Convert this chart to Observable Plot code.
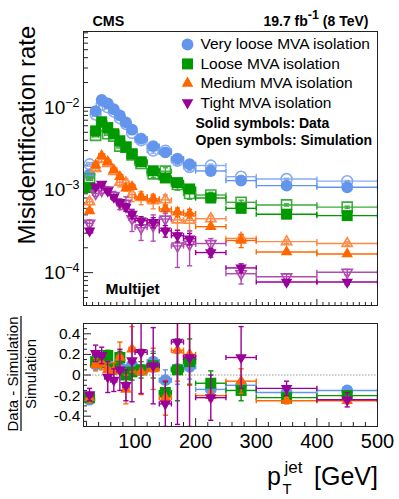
<!DOCTYPE html>
<html><head><meta charset="utf-8">
<script src="https://cdn.jsdelivr.net/npm/d3@7"></script>
<script src="https://cdn.jsdelivr.net/npm/@observablehq/plot@0.6"></script>
<style>
html,body{margin:0;padding:0;background:#fff;}
#wrap{position:relative;width:399px;height:499px;overflow:hidden;font-family:"Liberation Sans",Arial,sans-serif;}
#wrap svg{position:absolute;left:0;}
</style></head><body><div id="wrap"></div>
<script>
// ---- data ----
const binLo = [20,30,40,50,60,70,80,90,100,120,140,160,180,200,250,300,400];
const binHi = [30,40,50,60,70,80,90,100,120,140,160,180,200,250,300,400,500];
const ptX   = [25,35,45,55,65,75,85,95,110,130,150,170,190,225,275,350,450];

const vlData = [1.55e-3,9.0e-3,1.23e-2,1.12e-2,9.5e-3,8.0e-3,6.6e-3,5.4e-3,4.2e-3,3.4e-3,2.85e-3,2.4e-3,2.05e-3,1.7e-3,1.3e-3,1.13e-3,1.08e-3];
const vlSim  = [2.05e-3,8.2e-3,1.07e-2,1.0e-2,8.9e-3,7.4e-3,6.3e-3,4.9e-3,4.0e-3,3.0e-3,3.0e-3,2.26e-3,1.9e-3,1.98e-3,1.45e-3,1.36e-3,1.28e-3];
const lData  = [1.07e-3,5.2e-3,6.7e-3,5.7e-3,4.8e-3,3.95e-3,3.3e-3,2.75e-3,2.2e-3,1.71e-3,1.4e-3,1.23e-3,1.03e-3,8.0e-4,6.0e-4,5.1e-4,4.9e-4];
const lSim   = [1.37e-3,4.6e-3,6.0e-3,4.8e-3,4.5e-3,3.4e-3,3.3e-3,2.67e-3,2.1e-3,1.57e-3,1.69e-3,1.17e-3,9.1e-4,8.7e-4,7.1e-4,6.6e-4,6.2e-4];
const mData  = [5.6e-4,2.0e-3,2.6e-3,2.2e-3,1.75e-3,1.45e-3,1.05e-3,1.1e-3,8.3e-4,7.8e-4,5.9e-4,5.4e-4,5.2e-4,3.6e-4,2.45e-4,1.78e-4,1.68e-4];
const mSim   = [7.2e-4,1.82e-3,2.34e-3,2.1e-3,1.68e-3,1.24e-3,1.22e-3,8.8e-4,8.1e-4,7.4e-4,7.6e-4,4.35e-4,4.3e-4,4.5e-4,2.6e-4,2.37e-4,2.25e-4];
const tData  = [3.2e-4,1.1e-3,1.18e-3,9.8e-4,8.2e-4,7.1e-4,6.2e-4,5.1e-4,4.25e-4,4.05e-4,3.2e-4,2.8e-4,2.57e-4,1.75e-4,1.14e-4,7.7e-5,7.7e-5];
const tSim   = [3.95e-4,9.1e-4,9.9e-4,1.0e-3,8.6e-4,6.8e-4,6.9e-4,4.5e-4,3.5e-4,3.7e-4,4.45e-4,2.1e-4,2.2e-4,2.25e-4,9.7e-5,8.9e-5,1.01e-4];

// relative uncertainties (top panel)
const vlDataErr = [0.03,0.02,0.02,0.02,0.02,0.02,0.02,0.02,0.02,0.03,0.03,0.04,0.04,0.03,0.02,0.02,0.02];
const vlSimErr  = [0.05,0.03,0.03,0.03,0.03,0.03,0.04,0.04,0.05,0.07,0.07,0.1,0.1,0.04,0.03,0.02,0.02];
const lDataErr  = [0.04,0.03,0.03,0.03,0.03,0.03,0.03,0.04,0.04,0.05,0.05,0.06,0.06,0.04,0.04,0.03,0.03];
const lSimErr   = [0.05,0.04,0.04,0.04,0.04,0.05,0.05,0.06,0.07,0.1,0.1,0.15,0.15,0.08,0.06,0.03,0.03];
const mDataErr  = [0.05,0.04,0.04,0.04,0.05,0.06,0.07,0.08,0.08,0.1,0.12,0.12,0.12,0.06,0.18,0.04,0.04];
const mSimErr   = [0.08,0.06,0.06,0.07,0.08,0.12,0.12,0.18,0.18,0.2,0.15,0.25,0.25,0.08,0.1,0.05,0.05];
const tDataErr  = [0.06,0.05,0.05,0.06,0.07,0.08,0.1,0.12,0.12,0.14,0.16,0.16,0.16,0.12,0.12,0.07,0.07];
const tSimErr   = [0.1,0.08,0.08,0.1,0.12,0.15,0.2,0.3,0.3,0.35,0.22,0.45,0.45,0.15,0.25,0.08,0.08];

// (Data - Simulation)/Simulation
const vlRatio = [-0.24,0.1,0.15,0.12,0.06,0.08,0.05,0.1,0.05,0.13,-0.05,0.06,0.08,-0.14,-0.1,-0.17,-0.15];
const lRatio  = [-0.22,0.13,0.12,0.19,0.06,0.17,0.0,0.03,0.05,0.09,-0.17,0.05,0.13,-0.08,-0.15,-0.22,-0.2];
const mRatio  = [-0.22,0.1,0.11,0.05,0.04,0.17,-0.14,0.25,0.03,0.06,-0.22,0.24,0.2,-0.2,-0.06,-0.25,-0.25];
const tRatio  = [-0.19,0.21,0.19,-0.02,-0.05,0.05,-0.1,0.14,0.22,0.09,-0.28,0.32,0.17,-0.22,0.17,-0.13,-0.24];
const vlRatioErr = [0.03,0.03,0.03,0.03,0.03,0.04,0.04,0.05,0.05,0.1,0.1,0.15,0.12,0.05,0.04,0.02,0.02];
const lRatioErr  = [0.04,0.05,0.05,0.05,0.05,0.06,0.07,0.08,0.08,0.12,0.1,0.3,0.22,0.12,0.1,0.03,0.03];
const mRatioErr  = [0.05,0.06,0.06,0.07,0.08,0.15,0.14,0.22,0.22,0.2,0.17,0.3,0.3,0.05,0.12,0.03,0.03];
const tRatioErr  = [0.06,0.08,0.08,0.15,0.11,0.2,0.15,0.4,0.4,0.37,0.22,0.8,0.67,0.22,0.3,0.07,0.07];

const seriesNames  = ["Very loose MVA isolation","Loose MVA isolation","Medium MVA isolation","Tight MVA isolation"];
const seriesColors = ["#6495ed","#009900","#ff6600","#990099"];
const simColors    = ["#86acf2","#3aad3a","#ff8a45","#b04cb0"];

const yMajorTicks = [1e-4,1e-3,1e-2];
const yTickBase = "10";
const yTickExps = ["\u22124","\u22123","\u22122"];
const yMinorTicks = [5e-5,6e-5,7e-5,8e-5,9e-5,2e-4,3e-4,4e-4,5e-4,6e-4,7e-4,8e-4,9e-4,2e-3,3e-3,4e-3,5e-3,6e-3,7e-3,8e-3,9e-3,2e-2,3e-2,4e-2,5e-2,6e-2,7e-2,8e-2];
const xMajorTicks = [100,200,300,400,500];
const xTickLabels = ["100","200","300","400","500"];
const xMinorTop = d3.range(20,500,10).filter(v => v % 100 !== 0);
const xMinorBottom = d3.range(20,500,20).filter(v => v % 100 !== 0);
const rMajorTicks = [-0.4,-0.2,0,0.2,0.4];
const rTickLabels = ["-0.4","-0.2","0","0.2","0.4"];
const rMinorTicks = [-0.45,-0.35,-0.3,-0.25,-0.15,-0.1,-0.05,0.05,0.1,0.15,0.25,0.3,0.35,0.45];

// ---- styling ----
const FONT = "'Liberation Sans', Arial, Helvetica, sans-serif";
const W = 399, ML = 83, MR = 22;
const PW = W - ML - MR;
const symbols = ["circle","square","triangle","triangle"];
const rotates = [0,0,0,180];
const radii = [5.9,6.2,4.3,4.3];
const capH = {draw(ctx,size){const h=Math.sqrt(size/Math.PI); ctx.moveTo(-h,0); ctx.lineTo(h,0);}};
const capV = {draw(ctx,size){const h=Math.sqrt(size/Math.PI); ctx.moveTo(0,-h); ctx.lineTo(0,h);}};

function rowsOf(vals, rel, absErr) {
  return ptX.map((x,i) => {
    const v = vals[i];
    const e = absErr ? rel[i] : rel[i]*v;
    return {x, lo: binLo[i], hi: binHi[i], v, vlo: v - e, vhi: v + e};
  });
}
function seriesMarks(rows, color, k, hollow) {
  const sw = 1.4;
  return [
    Plot.link(rows, {x1:"lo", x2:"hi", y1:"v", y2:"v", stroke: color, strokeWidth: sw, clip: true}),
    Plot.dot(rows, {x:"lo", y:"v", symbol: capV, r: 2.6, stroke: color, fill:"none", strokeWidth: sw, clip: true}),
    Plot.dot(rows, {x:"hi", y:"v", symbol: capV, r: 2.6, stroke: color, fill:"none", strokeWidth: sw, clip: true}),
    Plot.link(rows, {x1:"x", x2:"x", y1:"vlo", y2:"vhi", stroke: color, strokeWidth: sw, clip: true}),
    Plot.dot(rows, {x:"x", y:"vlo", symbol: capH, r: 2.6, stroke: color, fill:"none", strokeWidth: sw, clip: true}),
    Plot.dot(rows, {x:"x", y:"vhi", symbol: capH, r: 2.6, stroke: color, fill:"none", strokeWidth: sw, clip: true}),
    Plot.dot(rows, {x:"x", y:"v", symbol: symbols[k], rotate: rotates[k],
      r: hollow ? radii[k]-0.5 : radii[k],
      fill: hollow ? "white" : color, fillOpacity: hollow ? 0 : 1,
      stroke: hollow ? color : "none", strokeWidth: 1.6, clip: true})
  ];
}

const dataSets = [vlData,lData,mData,tData];
const simSets  = [vlSim,lSim,mSim,tSim];
const dataErrs = [vlDataErr,lDataErr,mDataErr,tDataErr];
const simErrs  = [vlSimErr,lSimErr,mSimErr,tSimErr];
const ratios   = [vlRatio,lRatio,mRatio,tRatio];
const ratioErrs= [vlRatioErr,lRatioErr,mRatioErr,tRatioErr];

const topMarks = [];
for (let k = 0; k < 4; k++) {
  topMarks.push(...seriesMarks(rowsOf(simSets[k], simErrs[k]), simColors[k], k, true));
  topMarks.push(...seriesMarks(rowsOf(dataSets[k], dataErrs[k]), seriesColors[k], k, false));
}
const legendMarks = [];
seriesNames.forEach((name,k) => {
  const dy = 13 + 19.4*k;
  legendMarks.push(Plot.dot([name], {frameAnchor:"top-left", dx:104, dy, symbol: symbols[k], rotate: rotates[k], r: radii[k], fill: seriesColors[k]}));
  legendMarks.push(Plot.text([name], {text: d=>d, frameAnchor:"top-left", dx:117, dy, textAnchor:"start", lineAnchor:"middle", fontSize:15.5, fill:"black"}));
});

const TH = 306, TMT = 31, TMB = 1, TPH = TH - TMT - TMB;
const topPlot = Plot.plot({
  width: W, height: TH, marginLeft: ML, marginRight: MR, marginTop: TMT, marginBottom: TMB,
  style: {fontFamily: FONT, background: "transparent", color: "black", overflow: "visible"},
  x: {domain: [15, 500], axis: null, label: null},
  y: {type: "log", domain: [4e-5, 0.083], label: null},
  marks: [
    Plot.tickY(yMinorTicks, {y: d=>d, insetRight: PW-5, stroke:"#222"}),
    Plot.tickY(yMajorTicks, {y: d=>d, insetRight: PW-10, stroke:"#222"}),
    Plot.tickX(xMinorTop, {x: d=>d, insetTop: TPH-3, stroke:"#222"}),
    Plot.tickX(xMajorTicks, {x: d=>d, insetTop: TPH-6, stroke:"#222"}),
    Plot.axisY({ticks: yMajorTicks, tickFormat: d => yTickBase + "^" + yTickExps[yMajorTicks.indexOf(d)], tickSize: 0, tickPadding: 4, fontSize: 19, label: null}),
    ...topMarks,
    ...legendMarks,
    Plot.text(["Solid symbols: Data"], {text:d=>d, frameAnchor:"top-left", dx:112, dy:92, textAnchor:"start", lineAnchor:"middle", fontWeight:"bold", fontSize:14, fill:"black"}),
    Plot.text(["Open symbols: Simulation"], {text:d=>d, frameAnchor:"top-left", dx:112, dy:109, textAnchor:"start", lineAnchor:"middle", fontWeight:"bold", fontSize:14, fill:"black"}),
    Plot.text(["Multijet"], {text:d=>d, frameAnchor:"top-left", dx:22, dy:262, textAnchor:"start", lineAnchor:"bottom", fontWeight:"bold", fontSize:15.5, fill:"black"}),
    Plot.text(["CMS"], {text:d=>d, frameAnchor:"top-left", dx:9, dy:-6, textAnchor:"start", lineAnchor:"bottom", fontWeight:"bold", fontSize:14.3, fill:"black"}),
    Plot.text(["19.7 fb^-1 (8 TeV)"], {text:d=>d, frameAnchor:"top-right", dx:-9, dy:-6, textAnchor:"end", lineAnchor:"bottom", fontWeight:"bold", fontSize:14, fill:"black"}),
    Plot.frame({stroke:"#222"})
  ]
});

// turn "a^b" labels into text with a raised superscript tspan
function superscriptify(svg, bigSize, smallSize, rise) {
  d3.select(svg).selectAll("text").each(function() {
    const t = d3.select(this);
    const s = t.text();
    const m = s.match(/^(.*?)\^(\S+)(.*)$/);
    if (!m) return;
    t.text(null);
    t.append("tspan").text(m[1]);
    t.append("tspan").attr("font-size", smallSize).attr("dy", -rise).text(m[2]);
    if (m[3]) t.append("tspan").attr("dy", rise).text(m[3]);
  });
}

const ratioMarks = [];
for (let k = 0; k < 4; k++) {
  ratioMarks.push(...seriesMarks(rowsOf(ratios[k], ratioErrs[k], true), seriesColors[k], k, false));
}
const BH = 193, BMT = 17, BMB = 73, BPH = BH - BMT - BMB;
const bottomPlot = Plot.plot({
  width: W, height: BH, marginLeft: ML, marginRight: MR, marginTop: BMT, marginBottom: BMB,
  style: {fontFamily: FONT, background: "transparent", color: "black", overflow: "visible"},
  x: {domain: [15, 500], label: null},
  y: {domain: [-0.5, 0.5], label: null},
  marks: [
    Plot.ruleY([0], {stroke:"#9a9a9a", strokeWidth:1.2, strokeDasharray:"1.5,1.5"}),
    Plot.tickY(rMinorTicks, {y: d=>d, insetRight: PW-4, stroke:"#222"}),
    Plot.tickY(rMajorTicks, {y: d=>d, insetRight: PW-8, stroke:"#222"}),
    Plot.tickX(xMinorBottom, {x: d=>d, insetTop: BPH-4, stroke:"#222"}),
    Plot.tickX(xMajorTicks, {x: d=>d, insetTop: BPH-8, stroke:"#222"}),
    Plot.axisX({ticks: xMajorTicks, tickFormat: d => xTickLabels[xMajorTicks.indexOf(d)], tickSize: 0, tickPadding: 7, fontSize: 20, label: null}),
    Plot.axisY({ticks: rMajorTicks, tickFormat: d => rTickLabels[rMajorTicks.indexOf(d)], tickSize: 0, tickPadding: 3, fontSize: 15.5, label: null}),
    ...ratioMarks,
    Plot.frame({stroke:"#222"})
  ]
});

const wrap = document.getElementById("wrap");
topPlot.style.top = "0px";
bottomPlot.style.top = TH + "px";
wrap.appendChild(topPlot);
wrap.appendChild(bottomPlot);
superscriptify(topPlot, 19, 12.5, 7);

// axis titles overlay
const ov = d3.create("svg").attr("width", W).attr("height", 499)
  .style("top","0px").style("font-family", FONT).style("pointer-events","none");
ov.append("text").attr("transform","translate(35,135) rotate(-90)").attr("text-anchor","middle")
  .attr("font-size",24).attr("fill","black").text("Misidentification rate");
ov.append("text").attr("transform","translate(18,374) rotate(-90)").attr("text-anchor","middle")
  .attr("font-size",15).attr("fill","black").text("Data - Simulation");
ov.append("line").attr("x1",21).attr("x2",21).attr("y1",316).attr("y2",431).attr("stroke","black").attr("stroke-width",1.2);
ov.append("text").attr("transform","translate(35.5,374) rotate(-90)").attr("text-anchor","middle")
  .attr("font-size",15).attr("fill","black").text("Simulation");
const xt = ov.append("g").attr("fill","black");
xt.append("text").attr("x",267).attr("y",485).attr("font-size",25).text("p");
xt.append("text").attr("x",282.5).attr("y",494).attr("font-size",15).text("T");
xt.append("text").attr("x",284.5).attr("y",473).attr("font-size",17).text("jet");
xt.append("text").attr("x",378).attr("y",485).attr("font-size",25).attr("text-anchor","end").text("[GeV]");
wrap.appendChild(ov.node());
</script></body></html>
